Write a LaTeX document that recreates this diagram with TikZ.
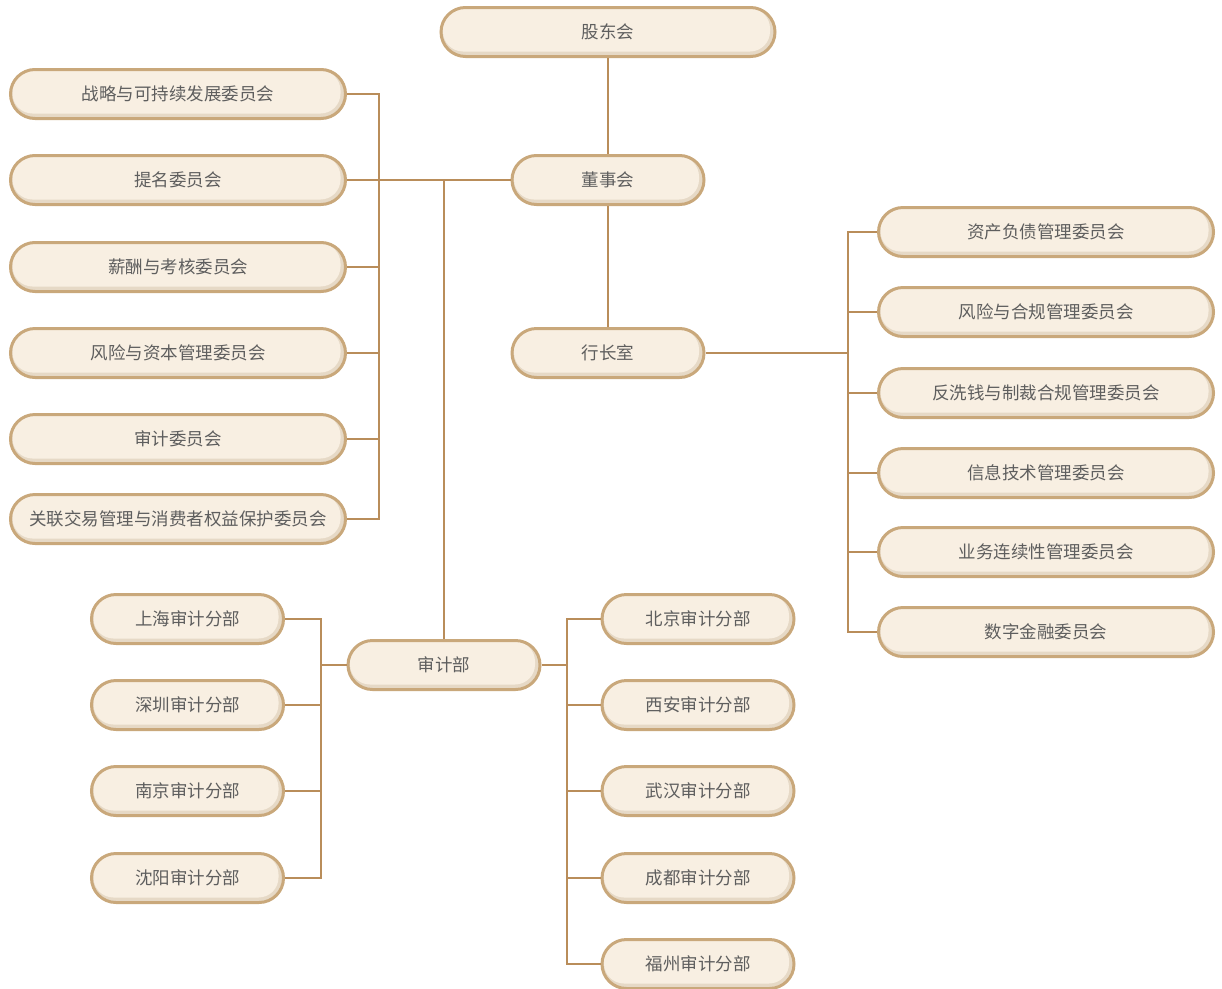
\documentclass[tikz,border=0pt]{standalone}
\usepackage{fontspec}
\usepackage{tikz}
\usetikzlibrary{calc}
\newfontfamily\cjk{Noto Sans CJK SC}
\definecolor{pillline}{HTML}{C9A87B}
\definecolor{pillfill}{HTML}{F8EFE2}
\definecolor{pillshade}{HTML}{E6D9C6}
\definecolor{linkcol}{HTML}{B98D5A}
\definecolor{txtcol}{HTML}{5E5E5E}

\begin{document}
\begin{tikzpicture}[x=1pt,y=-1pt,
    pill/.style={draw=pillline, line width=3pt, fill=pillshade, rounded corners=24.5pt,
        minimum height=49pt, text=txtcol, font=\cjk\fontsize{17.5}{20}\selectfont,
        path picture={\fill[pillfill, rounded corners=20pt]
            ($(path picture bounding box.south west)+(2pt,5pt)$) rectangle
            ($(path picture bounding box.north east)+(-5pt,-1pt)$);}},
    wide/.style={pill, minimum width=335pt},
    narrow/.style={pill, minimum width=192pt},
    link/.style={draw=linkcol, line width=1.3pt}]
            \useasboundingbox (0,0) rectangle (1222,988);
            % board and management
            \node (gdh) at (608,32) [pill, minimum width=334pt] {股东会};
            \node (dsh) at (608,180) [narrow] {董事会};
            \node (hzs) at (608,353) [narrow] {行长室};
            \node (sjb) at (444,665) [narrow] {审计部};
            % board committees
            \node (lc1) at (178,94) [wide] {战略与可持续发展委员会};
            \node (lc2) at (178,180) [wide] {提名委员会};
            \node (lc3) at (178,267) [wide] {薪酬与考核委员会};
            \node (lc4) at (178,353) [wide] {风险与资本管理委员会};
            \node (lc5) at (178,439) [wide] {审计委员会};
            \node (lc6) at (178,519) [wide] {关联交易管理与消费者权益保护委员会};
            % management committees
            \node (rc1) at (1046,232) [wide] {资产负债管理委员会};
            \node (rc2) at (1046,312) [wide] {风险与合规管理委员会};
            \node (rc3) at (1046,393) [wide] {反洗钱与制裁合规管理委员会};
            \node (rc4) at (1046,473) [wide] {信息技术管理委员会};
            \node (rc5) at (1046,552) [wide] {业务连续性管理委员会};
            \node (rc6) at (1046,632) [wide] {数字金融委员会};
            % audit branches
            \node (la1) at (187.5,619) [narrow] {上海审计分部};
            \node (la2) at (187.5,705) [narrow] {深圳审计分部};
            \node (la3) at (187.5,791) [narrow] {南京审计分部};
            \node (la4) at (187.5,878) [narrow] {沈阳审计分部};
            \node (ra1) at (698,619) [narrow] {北京审计分部};
            \node (ra2) at (698,705) [narrow] {西安审计分部};
            \node (ra3) at (698,791) [narrow] {武汉审计分部};
            \node (ra4) at (698,878) [narrow] {成都审计分部};
            \node (ra5) at (698,964) [narrow] {福州审计分部};
            \coordinate (lbx) at (379,0);
            \coordinate (rbx) at (848,0);
            \coordinate (lax) at (321,0);
            \coordinate (rax) at (567,0);
            % connectors
            \draw[link] (gdh) -- (dsh);
            \draw[link] (dsh) -- (hzs);
            \draw[link] (dsh.west) -- (lc2.east);
            \draw[link] (sjb.north) -- (sjb.north |- dsh.west);
            \draw[link] (lc1.east) -- (lc1.east -| lbx) -- (lc6.east -| lbx) -- (lc6.east);
            \draw[link] (lc3.east) -- (lc3.east -| lbx);
            \draw[link] (lc4.east) -- (lc4.east -| lbx);
            \draw[link] (lc5.east) -- (lc5.east -| lbx);
            \draw[link] (hzs.east) -- (hzs.east -| rbx);
            \draw[link] (rc1.west) -- (rc1.west -| rbx) -- (rc6.west -| rbx) -- (rc6.west);
            \draw[link] (rc2.west) -- (rc2.west -| rbx);
            \draw[link] (rc3.west) -- (rc3.west -| rbx);
            \draw[link] (rc4.west) -- (rc4.west -| rbx);
            \draw[link] (rc5.west) -- (rc5.west -| rbx);
            \draw[link] (sjb.west) -- (sjb.west -| lax);
            \draw[link] (la1.east) -- (la1.east -| lax) -- (la4.east -| lax) -- (la4.east);
            \draw[link] (la2.east) -- (la2.east -| lax);
            \draw[link] (la3.east) -- (la3.east -| lax);
            \draw[link] (sjb.east) -- (sjb.east -| rax);
            \draw[link] (ra1.west) -- (ra1.west -| rax) -- (ra5.west -| rax) -- (ra5.west);
            \draw[link] (ra2.west) -- (ra2.west -| rax);
            \draw[link] (ra3.west) -- (ra3.west -| rax);
            \draw[link] (ra4.west) -- (ra4.west -| rax);
    \end{tikzpicture}
\end{document}
